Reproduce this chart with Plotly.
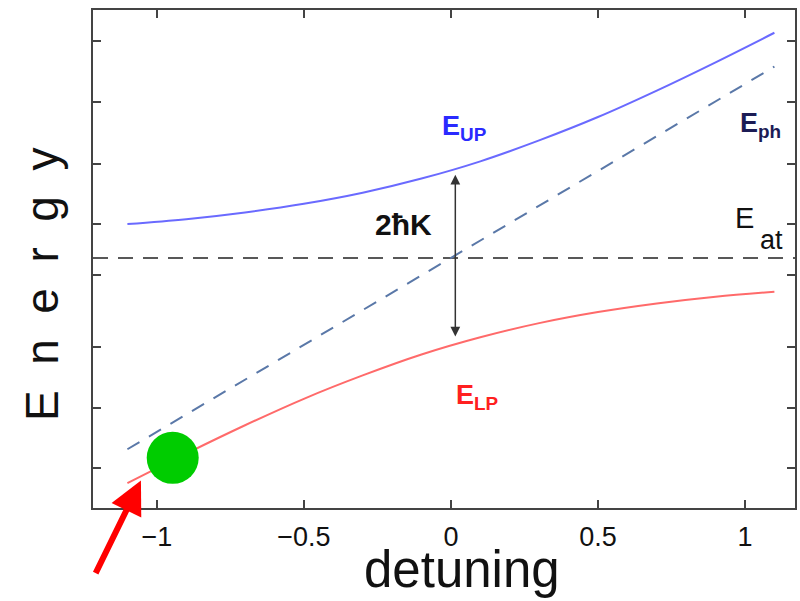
import plotly.graph_objects as go

# Detuning samples and energies (E_at = 0 reference)
detuning = [-1.1, -0.9, -0.7, -0.5, -0.3, -0.1, 0.1, 0.3, 0.5, 0.7, 0.9, 1.1]
E_up = [0.55, 0.63, 0.74, 0.88, 1.06, 1.29, 1.57, 1.91, 2.29, 2.72, 3.18, 3.66]
E_lp = [-3.66, -3.18, -2.72, -2.29, -1.91, -1.57, -1.29, -1.06, -0.88, -0.74, -0.63, -0.55]
ph_x = [-1.1, 1.1]
E_ph = [-3.11, 3.11]
at_x = [-1.217, 1.17]
E_at = [0.0, 0.0]

x_ticks = [-1, -0.5, 0, 0.5, 1]
x_ticklabels = ["\u22121", "\u22120.5", "0", "0.5", "1"]
y_ticks = [3.53, 2.54, 1.53, 0.55, -0.28, -1.45, -2.44, -3.41]

dot_x = [-0.946]
dot_y = [-3.25]

# Splitting arrow endpoints
split_x = 0.015
split_top = 1.35
split_bot = -1.3

FONT = "Liberation Sans, Arial, sans-serif"

fig = go.Figure()
fig.add_trace(go.Scatter(x=at_x, y=E_at, mode="lines",
                         line=dict(color="#222222", width=1.5, dash="15px,10px"),
                         hoverinfo="skip", showlegend=False))
fig.add_trace(go.Scatter(x=ph_x, y=E_ph, mode="lines",
                         line=dict(color="#5a78a8", width=2, dash="14px,11px"),
                         showlegend=False))
fig.add_trace(go.Scatter(x=detuning, y=E_up, mode="lines",
                         line=dict(color="#6a6aff", width=2, shape="spline"),
                         showlegend=False))
fig.add_trace(go.Scatter(x=detuning, y=E_lp, mode="lines",
                         line=dict(color="#ff6a6a", width=2, shape="spline"),
                         showlegend=False))
fig.add_trace(go.Scatter(x=dot_x, y=dot_y, mode="markers",
                         marker=dict(color="#00cc00", size=52, line=dict(width=0)),
                         showlegend=False))

# Double-headed arrow for the splitting
fig.add_annotation(x=split_x, y=split_top, ax=split_x, ay=split_bot,
                   xref="x", yref="y", axref="x", ayref="y",
                   text="", showarrow=True, arrowhead=2, startarrowhead=2,
                   arrowside="end+start", arrowsize=1.3, startarrowsize=1.3,
                   arrowwidth=1.5, arrowcolor="#333333")

labels = [
    (0.045, 2.11, "E<sub>UP</sub>", "#2a2aff"),
    (1.052, 2.16, "E<sub>ph</sub>", "#1c1c55"),
    (0.09, -2.26, "E<sub>LP</sub>", "#ff2020"),
]
for lx, ly, txt, col in labels:
    fig.add_annotation(x=lx, y=ly, xref="x", yref="y", text="<b>" + txt + "</b>",
                       showarrow=False, xanchor="center", yanchor="middle",
                       font=dict(family=FONT, size=27, color=col))

# E_at with a deep subscript
fig.add_annotation(x=0.998, y=0.65, xref="x", yref="y", text="E",
                   showarrow=False, xanchor="center", yanchor="middle",
                   font=dict(family=FONT, size=29, color="#111111"))
fig.add_annotation(x=1.09, y=0.29, xref="x", yref="y", text="at",
                   showarrow=False, xanchor="center", yanchor="middle",
                   font=dict(family=FONT, size=27, color="#111111"))

fig.add_annotation(x=-0.16, y=0.55, xref="x", yref="y", text="<b>2\u0127K</b>",
                   showarrow=False, xanchor="center", yanchor="middle",
                   font=dict(family=FONT, size=30, color="#111111"))

# Axis titles
fig.add_annotation(x=-0.0724, y=0.45, xref="paper", yref="paper",
                   text="E\u00a0\u00a0n\u00a0\u00a0e\u00a0\u00a0r\u00a0\u00a0g\u00a0\u00a0y",
                   textangle=-90, showarrow=False, xanchor="center", yanchor="middle",
                   font=dict(family=FONT, size=46, color="#111111"))
fig.add_annotation(x=0.5256, y=-0.1235, xref="paper", yref="paper", text="detuning",
                   showarrow=False, xanchor="center", yanchor="middle",
                   font=dict(family=FONT, size=51, color="#111111"))

# Red pointer arrow
fig.add_annotation(x=-1.054, y=-3.62, xref="x", yref="y",
                   ax=-46, ay=94, text="", showarrow=True,
                   arrowhead=2, arrowsize=1.1, arrowwidth=6, arrowcolor="#ff0000")

fig.update_layout(
    width=800, height=601,
    margin=dict(l=93, r=3, t=10, b=93),
    paper_bgcolor="white", plot_bgcolor="white",
    font=dict(family=FONT, color="#111111"),
)
fig.update_xaxes(range=[-1.217, 1.17], tickvals=x_ticks, ticktext=x_ticklabels,
                 ticks="inside", ticklen=8, tickwidth=2, tickcolor="#444444",
                 showline=True, linecolor="#444444", linewidth=2, mirror="ticks",
                 showgrid=False, zeroline=False, ticklabelstandoff=4,
                 tickfont=dict(family=FONT, size=27, color="#111111"))
fig.update_yaxes(range=[-4.065, 4.03], tickvals=y_ticks, showticklabels=False,
                 ticks="inside", ticklen=8, tickwidth=2, tickcolor="#444444",
                 showline=True, linecolor="#444444", linewidth=2, mirror="ticks",
                 showgrid=False, zeroline=False)

fig.write_html("out.html")
